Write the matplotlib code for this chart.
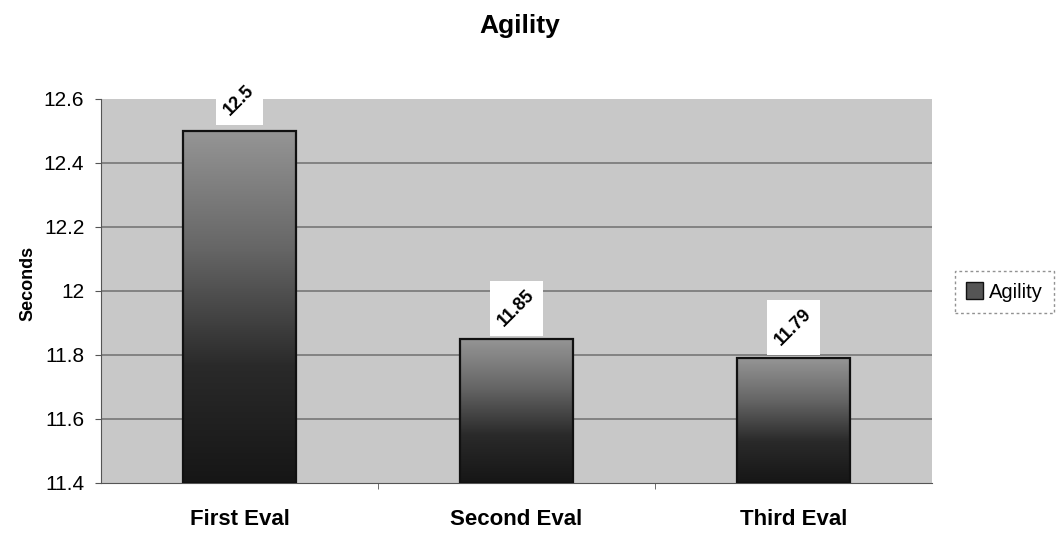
import numpy as np
import matplotlib
matplotlib.use("Agg")
import matplotlib.pyplot as plt
from matplotlib.patches import Patch, Rectangle
from matplotlib.colors import LinearSegmentedColormap

categories = ["First Eval", "Second Eval", "Third Eval"]
agility = [12.5, 11.85, 11.79]
value_labels = ["12.5", "11.85", "11.79"]
y_ticks = [11.4, 11.6, 11.8, 12.0, 12.2, 12.4, 12.6]
y_tick_labels = ["11.4", "11.6", "11.8", "12", "12.2", "12.4", "12.6"]

plt.rcParams["font.family"] = ["Liberation Sans", "DejaVu Sans"]

fig = plt.figure(figsize=(10.57, 5.35), dpi=100)
ax = fig.add_axes([101 / 1057, 1 - 483 / 535, 831 / 1057, 384 / 535])
ax.set_facecolor("#c8c8c8")

ymin, ymax = 11.4, 12.6
ax.set_ylim(ymin, ymax)
ax.set_xlim(-0.5, len(categories) - 0.5)

# horizontal gridlines
for t in y_ticks[1:-1]:
    ax.axhline(t, color="#707070", lw=1.1, zorder=1)

# vertical gradient, dark at the base, mid grey at the top
cmap = LinearSegmentedColormap.from_list(
    "bargrad", ["#161616", "#2a2a2a", "#666666", "#959595"])
grad = np.linspace(0, 1, 256).reshape(-1, 1)

width = 0.41
x = np.arange(len(categories))
bars = ax.bar(x, [v - ymin for v in agility], width, bottom=ymin,
              facecolor="none", edgecolor="#111111", linewidth=1.6, zorder=4)
for rect in bars:
    x0 = rect.get_x()
    x1 = x0 + rect.get_width()
    y0 = rect.get_y()
    y1 = y0 + rect.get_height()
    ax.imshow(grad, cmap=cmap, origin="lower", aspect="auto",
              extent=(x0, x1, y0, y1), zorder=3, interpolation="bilinear")

# value labels above each bar: rotated text on an upright white box
labels = []
for xi, v, lab in zip(x, agility, value_labels):
    t = ax.annotate(lab, (xi, v), xytext=(0, 22), textcoords="offset points",
                    ha="center", va="center", rotation=45, fontsize=13,
                    fontweight="bold", zorder=6, annotation_clip=False)
    labels.append(t)

ax.set_yticks(y_ticks)
ax.set_yticklabels(y_tick_labels, fontsize=15)
ax.set_xticks(x)
ax.set_xticklabels(categories, fontsize=16, fontweight="bold")
ax.set_xticks([0.5, 1.5], minor=True)
ax.tick_params(axis="x", which="major", length=0, pad=19)
ax.tick_params(axis="x", which="minor", length=4, color="#555555")
ax.tick_params(axis="y", length=4, color="#555555", pad=8)
for s in ["top", "right"]:
    ax.spines[s].set_visible(False)
ax.spines["left"].set_color("#555555")
ax.spines["bottom"].set_color("#555555")

ax.set_ylabel("Seconds", fontsize=13, fontweight="bold")
ax.yaxis.set_label_coords(-0.078, 0.52)
fig.suptitle("Agility", x=520 / 1057, y=1 - 26 / 535, fontsize=19,
             fontweight="bold", va="center")

leg = fig.legend(handles=[Patch(facecolor="#555555", edgecolor="#111111",
                                label="Agility")],
                 loc="center left", bbox_to_anchor=(955 / 1057, 1 - 292 / 535),
                 fontsize=14.5, frameon=True, fancybox=False,
                 handlelength=0.85, handleheight=0.85, handletextpad=0.3,
                 borderpad=0.55, borderaxespad=0)
frame = leg.get_frame()
frame.set_edgecolor("#777777")
frame.set_linestyle((0, (2, 2)))
frame.set_linewidth(1.0)

# white boxes behind the value labels
fig.canvas.draw()
renderer = fig.canvas.get_renderer()
inv = ax.transData.inverted()
for t in labels:
    bb = t.get_window_extent(renderer)
    cx, cy = (bb.x0 + bb.x1) / 2, (bb.y0 + bb.y1) / 2
    half_w = bb.width / 2 + 5
    half_h = bb.height / 2 + 6
    (dx0, dy0) = inv.transform((cx - half_w, cy - half_h))
    (dx1, dy1) = inv.transform((cx + half_w, cy + half_h))
    ax.add_patch(Rectangle((dx0, dy0), dx1 - dx0, dy1 - dy0, fc="white",
                           ec="none", zorder=5, clip_on=False))

fig.savefig("out.png", dpi=100, facecolor="white")
